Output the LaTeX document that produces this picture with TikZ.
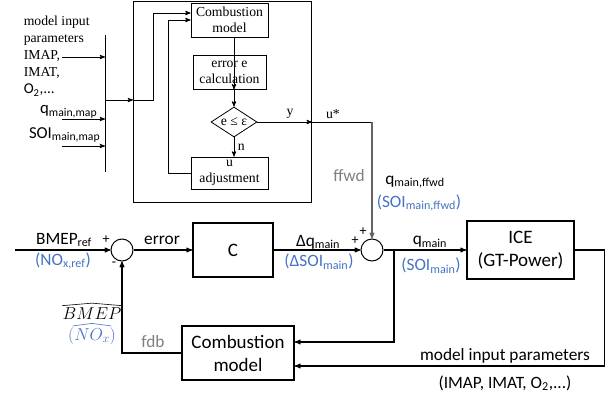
\documentclass[tikz,border=0pt]{standalone}
\usepackage{fontspec}
\setmainfont{Liberation Serif}
\setsansfont{Carlito}
\usetikzlibrary{arrows,shapes.geometric}
\definecolor{ctrlblue}{RGB}{68,114,196}
\definecolor{siggray}{RGB}{128,128,128}
\definecolor{ffwdgray}{RGB}{100,100,100}
\newcommand{\lowtxt}[1]{\textsubscript{#1}}

\begin{document}
\begin{tikzpicture}[->,>=stealth',x=1pt,y=-1pt,line width=0.9pt,
    txtserif/.style={font=\rmfamily\fontsize{13.7}{16}\selectfont},
    txtsans/.style={font=\sffamily\fontsize{17.3}{21}\selectfont},
    txtblue/.style={txtsans,text=ctrlblue},
    txtgray/.style={txtsans,text=siggray},
    inbox/.style={draw,txtserif,align=center,minimum width=77pt,
                  minimum height=34pt,inner sep=1pt,line width=0.8pt},
    plantbox/.style={draw,font=\sffamily\fontsize{19}{23}\selectfont,
                  align=center,line width=1.6pt},
    sumpt/.style={draw,circle,minimum size=22pt,inner sep=0pt,line width=1pt},
    leftline/.style={txtserif,anchor=west,text height=1.6ex,text depth=.3ex},
    hatline/.style={-,line width=0.6pt}]
  \useasboundingbox (0,0) rectangle (611,400);

  % optimisation loop (top)
  \node[draw,minimum width=178pt,minimum height=201pt,anchor=north west,
        line width=0.9pt] (ctrl) at (133,1) {};
  \node[inbox] (cm1) at (229.5,20) {Combustion\\model};
  \node[inbox,minimum width=73pt] (ec) at (229.5,72) {error e\\calculation};
  \node[draw,shape=diamond,aspect=1.53,minimum width=46pt,minimum height=30pt,
        inner sep=0pt,line width=0.8pt,txtserif] (check) at (234,122) {e ≤ ε};
  \node[inbox,minimum height=32pt] (ua) at (229.5,173) {u\\adjustment};

  % map inputs
  \node[leftline] (l1) at (20,23) {model input};
  \node[leftline] (l2) at (20,40) {parameters};
  \node[leftline] (l3) at (20,57) {IMAP,};
  \node[leftline] (l4) at (20,74) {IMAT,};
  \node[leftline,font=\sffamily\fontsize{15}{17}\selectfont] (l5) at (20,91) {O\lowtxt{2},...};
  \node[anchor=east,font=\sffamily\fontsize{16.7}{19}\selectfont] (qmap) at (101,112) {q\lowtxt{main,map}};
  \node[anchor=east,font=\sffamily\fontsize{16.7}{19}\selectfont] (soimap) at (104,135) {SOI\lowtxt{main,map}};
  \coordinate (bustop) at (105,35);
  \coordinate (busbot) at (105,172);
  \coordinate (busout) at (105,100);
  \coordinate (in1) at (62,57);
  \coordinate (in2) at (62,119);
  \coordinate (in3) at (62,146);

  % closed loop (bottom)
  \coordinate (ref) at (15,250);
  \node[sumpt] (sum1) at (122,250) {};
  \node[plantbox,minimum width=80pt,minimum height=54pt] (c) at (233,250) {C};
  \node[sumpt] (sum2) at (372,250) {};
  \node[plantbox,minimum width=107pt,minimum height=58pt] (ice) at (520.5,250) {ICE\\(GT-Power)};
  \node[plantbox,minimum width=112pt,minimum height=54pt] (cm2) at (238,353) {Combustion\\model};
  \coordinate (ucorner) at (372,122);
  \coordinate (jn) at (394,250);

  \node[txtsans] (bmep) at (64,240) {BMEP\lowtxt{ref}};
  \node[txtblue] (noxref) at (63,261) {(NO\lowtxt{x,ref})};
  \node[font=\sffamily\fontsize{14}{16}\selectfont] (p1) at (106,240) {+};
  \node[font=\sffamily\fontsize{14}{16}\selectfont] (m1) at (114,264) {-};
  \node[txtsans] (err) at (162,240) {error};
  \node[txtsans] (dq) at (318,242) {Δq\lowtxt{main}};
  \node[txtblue] (dsoi) at (319,262) {(ΔSOI\lowtxt{main})};
  \node[font=\sffamily\fontsize{14}{16}\selectfont] (p2) at (355,241) {+};
  \node[font=\sffamily\fontsize{14}{16}\selectfont] (p3) at (363,232) {+};
  \node[txtgray] (ffwd) at (349,176) {ffwd};
  \node[txtsans] (qff) at (415,182) {q\lowtxt{main,ffwd}};
  \node[txtblue] (soiff) at (419,203) {(SOI\lowtxt{main,ffwd})};
  \node[txtsans] (qm) at (430,242) {q\lowtxt{main}};
  \node[txtblue] (soim) at (431,266) {(SOI\lowtxt{main})};
  \node[txtsans] (mip) at (505,356) {model input parameters};
  \node[txtsans] (mipl) at (505,383) {(IMAP, IMAT, O\lowtxt{2},...)};
  \node[font=\fontsize{17}{19}\selectfont,inner sep=1pt] (bhat) at (92,314) {$BMEP$};
  \node[font=\fontsize{17}{19}\selectfont,inner sep=1pt,text=ctrlblue] (nhat) at (92,336) {$(NO_x)$};
  \node[txtgray] (fdb) at (153,342) {fdb};

  % hats
  \draw[hatline] ([xshift=1pt,yshift=1pt]bhat.north west) -- ([yshift=3.5pt]bhat.north)
      -- ([xshift=-1pt,yshift=1pt]bhat.north east);
  \draw[hatline,ctrlblue] ([xshift=6pt,yshift=0pt]nhat.north west) -- ([yshift=2.5pt]nhat.north)
      -- ([xshift=-6pt,yshift=0pt]nhat.north east);

  % connectors, top
  \draw[-] (bustop) -- (busbot);
  \draw (in1) -- (in1 -| bustop);
  \draw (in2) -- (in2 -| bustop);
  \draw (in3) -- (in3 -| bustop);
  \draw (busout) -- (busout -| ctrl.west);
  \draw (busout -| ctrl.west) -- ++(20,0) |- ([yshift=7pt]cm1.west);
  \draw (ua.west) -- ++(-22,0) |- (cm1.west);
  \draw (cm1.south -| check) -- (ec.south -| check |- ec.north);
  \draw (ec.south -| check) -- (check.north);
  \draw (check.south) -- (ua.north -| check) node[midway,right,txtserif] {n};
  \draw (check.east) -- (check.east -| ctrl.east) node[pos=.6,above,txtserif] {y};
  \draw[-] (check.east -| ctrl.east) -- (ucorner) node[pos=.35,above,txtserif] {u*};
  \draw[ffwdgray,line width=1.1pt] (ucorner) -- (sum2.north);

  % connectors, bottom
  \draw[line width=1.1pt] (ref) -- (sum1.west);
  \draw[line width=1.1pt] (sum1.east) -- (c.west);
  \draw[line width=1.1pt] (c.east) -- (sum2.west);
  \draw[line width=1.1pt] (sum2.east) -- (ice.west);
  \draw[line width=1.1pt] (jn) |- ([yshift=11pt]cm2.east);
  \draw[line width=1.1pt] (ice.east) -- ++(30,0) |- ([yshift=-13pt]cm2.east);
  \draw[line width=1.1pt] (cm2.west) -| (sum1.south);
\end{tikzpicture}
\end{document}
